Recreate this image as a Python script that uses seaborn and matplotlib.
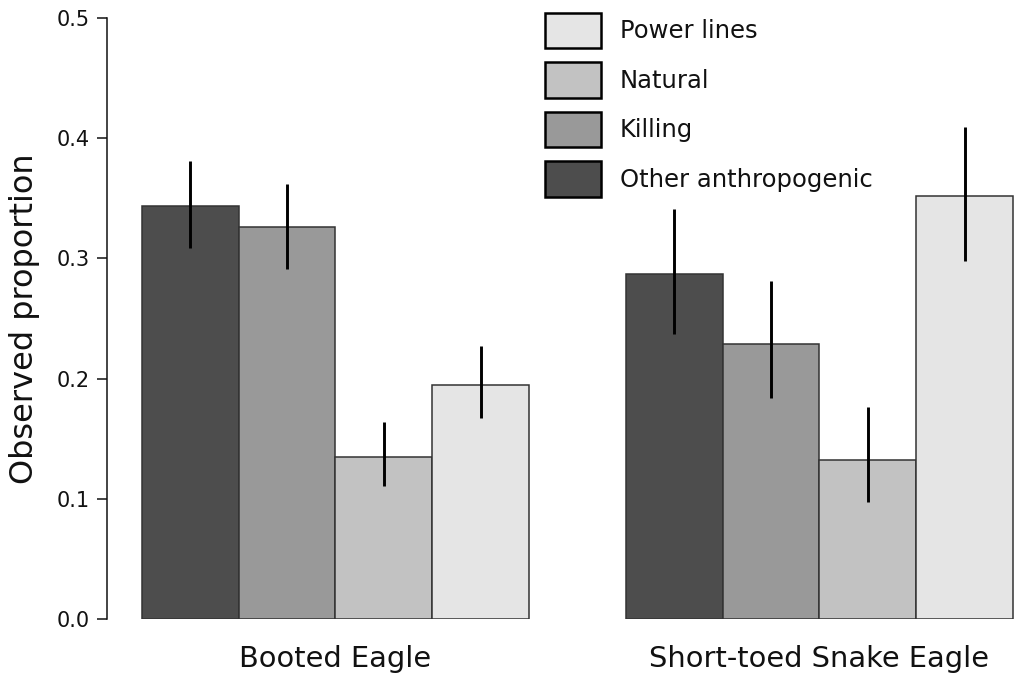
import matplotlib
matplotlib.use("Agg")
import matplotlib.pyplot as plt
from matplotlib.patches import Patch
import seaborn as sns
import pandas as pd

species = ["Booted Eagle", "Short-toed Snake Eagle"]
causes = ["Other anthropogenic", "Killing", "Natural", "Power lines"]
colors = ["#4d4d4d", "#999999", "#c2c2c2", "#e5e5e5"]

booted_vals = [0.344, 0.326, 0.135, 0.195]
snake_vals = [0.287, 0.229, 0.132, 0.352]
booted_lo = [0.309, 0.291, 0.111, 0.167]
booted_hi = [0.381, 0.362, 0.164, 0.227]
snake_lo = [0.237, 0.184, 0.097, 0.298]
snake_hi = [0.341, 0.281, 0.176, 0.409]

yticks = [0.0, 0.1, 0.2, 0.3, 0.4, 0.5]

sns.set_style("white")
plt.rcParams["font.family"] = ["DejaVu Sans"]

rows = []
for sp, vals, lo, hi in [(species[0], booted_vals, booted_lo, booted_hi),
                         (species[1], snake_vals, snake_lo, snake_hi)]:
    for c, v, l, h in zip(causes, vals, lo, hi):
        rows.append({"species": sp, "cause": c, "value": v, "lo": l, "hi": h})
df = pd.DataFrame(rows)

fig = plt.figure(figsize=(10.21, 6.87), dpi=100)
ax = fig.add_axes([107 / 1021, 1 - 619 / 687, 1 - 107 / 1021, (619 - 18) / 687])

pal = dict(zip(causes, colors))
sns.barplot(data=df, x="species", y="value", hue="cause", order=species,
            hue_order=causes, palette=pal, width=0.8, saturation=1,
            edgecolor="#333333", linewidth=1.1, errorbar=None, legend=False, ax=ax)

# error bars
for cont, cause in zip(ax.containers, causes):
    for bar, sp in zip(cont, species):
        r = df[(df.species == sp) & (df.cause == cause)].iloc[0]
        xc = bar.get_x() + bar.get_width() / 2
        ax.vlines(xc, r.lo, r.hi, colors="black", linewidth=2.1, clip_on=False, zorder=5)

ax.set_xlim(-0.472, 1.4165)
ax.set_ylim(0, 0.5)
ax.set_yticks(yticks)
ax.set_yticklabels([f"{t:.1f}" for t in yticks])
ax.tick_params(axis="y", length=7.5, width=1.1, pad=5, labelsize=15, direction="out",
               left=True, colors="#111111")
ax.tick_params(axis="x", length=0, pad=18.5, labelsize=20.8, labelcolor="#111111")
for s in ["top", "right", "bottom"]:
    ax.spines[s].set_visible(False)
ax.spines["left"].set_bounds(0, 0.5)
ax.spines["left"].set_linewidth(1.1)
ax.spines["left"].set_color("#111111")
ax.set_xlabel("")
ax.set_ylabel("Observed proportion", fontsize=23, labelpad=12, color="#111111")

handles = [Patch(facecolor=pal[c], edgecolor="black", linewidth=1.8, label=c)
           for c in reversed(causes)]
fs = 17.5
leg = fig.legend(handles=handles, loc="upper left",
                 bbox_to_anchor=(545 / 1021, 1 - 13 / 687), frameon=False,
                 fontsize=fs, handlelength=2.3, handleheight=1.86,
                 labelspacing=0.58, handletextpad=0.78, borderpad=0, borderaxespad=0)
for t in leg.get_texts():
    t.set_color("#111111")

fig.savefig("out.png", dpi=100)
